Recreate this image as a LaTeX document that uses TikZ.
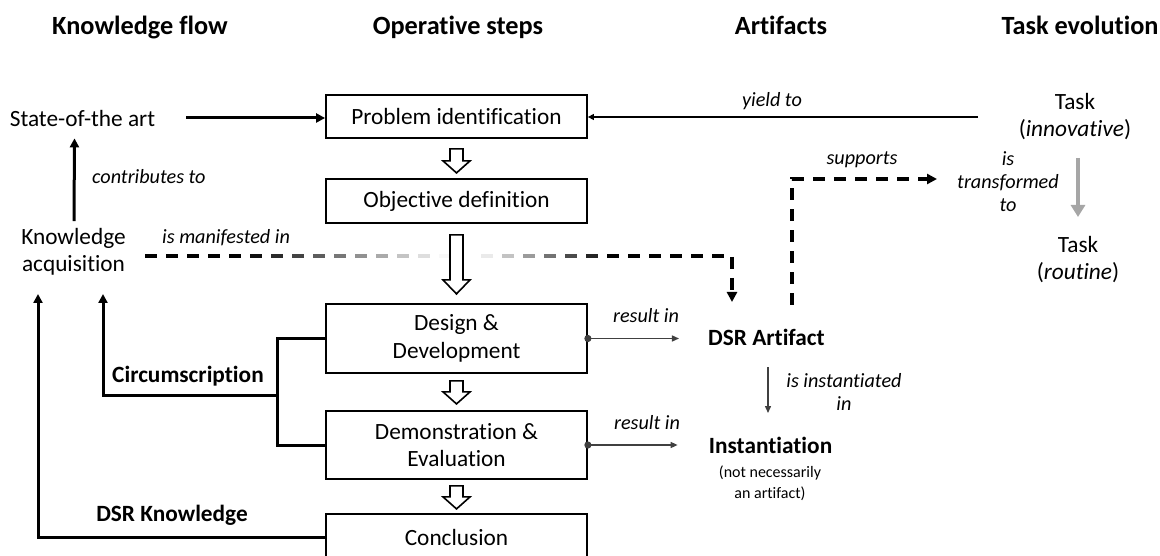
\documentclass[tikz,border=0pt]{standalone}
\usepackage{fontspec}
\setmainfont{Carlito}[Ligatures={NoCommon,NoContextual}]
\usetikzlibrary{arrows.meta,calc}
\definecolor{resgray}{HTML}{404040}
\definecolor{taskgray}{HTML}{A6A6A6}
\tikzset{
  stepbox/.style={draw, line width=1.8pt, minimum width=261pt, inner sep=0pt,
    align=center, font=\fontsize{23.3}{27.5}\selectfont},
  txt/.style={inner sep=0pt, align=center, font=\fontsize{23.3}{27.5}\selectfont},
  hdr/.style={inner sep=0pt, anchor=base, font=\fontsize{26.3}{30}\selectfont\bfseries},
  lbl/.style={inner sep=0pt, align=center, font=\fontsize{20.2}{23}\selectfont\itshape},
  blbl/.style={inner sep=0pt, font=\fontsize{23.3}{27}\selectfont\bfseries},
  small/.style={inner sep=0pt, align=center, font=\fontsize{16}{21}\selectfont},
  flow/.style={line width=3pt, -{Triangle[length=9pt,width=9pt]}},
  bracket/.style={line width=3pt},
  thinarrow/.style={line width=1.4pt, -{Triangle[length=6pt,width=6pt]}},
  result/.style={line width=1.4pt, resgray, -{Triangle[length=7pt,width=6pt]}},
  dashflow/.style={line width=3.2pt, dash pattern=on 12pt off 9pt,
    -{Triangle[length=10pt,width=10pt]}},
  hollow/.style={draw, line width=1.6pt, fill=white, line join=miter},
  taskarrow/.style={line width=4.5pt, taskgray, -{Triangle[length=12pt,width=14pt]}}
}
% hollow downward step arrow: start point, shaft length, head length
\newcommand{\hollowdown}[3]{%
  \path[hollow] ($(#1)+(-6.5,0)$) -- ++(0,#2) -- ++(-7,0) -- ++(13.5,#3)
    -- ++(13.5,-#3) -- ++(-7,0) -- ++(0,-#2) -- cycle;}
\begin{document}
\begin{tikzpicture}[x=1pt,y=-1pt]
\useasboundingbox (0,0) rectangle (1160,556);
\clip (0,0) rectangle (1160,556);

% column headings
\node[hdr] (h1) at (140,35) {Knowledge flow};
\node[hdr] (h2) at (458,35) {Operative steps};
\node[hdr] (h3) at (781,35) {Artifacts};
\node[hdr] (h4) at (1080,35) {Task evolution};

% operative steps
\node[stepbox, minimum height=43pt] (pi) at (456.5,116.5) {Problem identification};
\node[stepbox, minimum height=44pt] (od) at (456.5,201) {Objective definition};
\node[stepbox, minimum height=69pt] (dd) at (456.5,338.5) {Design \&\\Development};
\node[stepbox, minimum height=68pt] (de) at (456.5,445) {Demonstration \&\\Evaluation};
\node[stepbox, minimum height=46pt] (cc) at (456.5,537) {Conclusion};

% knowledge acquisition is manifested in the artifact (fading dashes)
\coordinate (mfstart) at (145,256);
\coordinate (mfturn) at (628,256);
\coordinate (mfend) at (732,302);
\foreach \i in {0,...,22}{
  \pgfmathsetmacro{\xa}{145+21*\i}
  \pgfmathsetmacro{\p}{max(min((445-\xa)/2.08,100),min((\xa-470)/1.35,100),0)}
  \draw[line width=3.2pt, black!\p] (\xa,256) -- ++(12,0);
}
\draw[dashflow] (mfturn) -| (mfend);

% step arrows
\hollowdown{$(pi.south)+(0,10)$}{12}{12}
\hollowdown{$(od.south)+(0,11)$}{45}{14}
\hollowdown{$(dd.south)+(0,7)$}{11}{12}
\hollowdown{$(de.south)+(0,6)$}{11}{12}

% knowledge flow
\node[txt] (sota) at (82.5,118) {State-of-the art};
\node[txt] (ka) at (73.5,252) {Knowledge\\acquisition};
\node[lbl, anchor=west] at (92,177) {contributes to};
\node[lbl, anchor=west] at (162,238) {is manifested in};
\node[blbl] at (188,376) {Circumscription};
\node[blbl] at (172,515) {DSR Knowledge};

\draw[flow] (sota.east) ++(31,0) -- (sota.east -| pi.west);
\draw[flow] ($(ka.north)+(0.5,-7)$) -- ($(sota.south)+(-8,12)$);

\coordinate (brk) at ($(dd.west)+(-48,0)$);
\draw[bracket] (dd.west) -- (brk) |- (de.west);
\coordinate (cj) at (brk |- 0,395);
\coordinate (kain1) at (103,294);
\coordinate (kain2) at (38,294);
\draw[flow] (cj) -| (kain1);
\draw[flow] (cc.west) -| (kain2);

% artifacts
\node[blbl] (art) at (766.5,337) {DSR Artifact};
\node[blbl] (inst) at (770.5,445) {Instantiation};
\node[small] at (770,483) {(not necessarily\\an artifact)};
\node[lbl] at (646,316) {result in};
\node[lbl] at (647,423) {result in};
\node[lbl] at (844,392) {is instantiated\\in};

\fill[resgray] (dd.east) circle (3.6pt);
\fill[resgray] (de.east) circle (3.6pt);
\draw[result] (dd.east) -- ($(dd.east -| art.west)+(-29,0)$);
\draw[result] (de.east) -- ($(de.east -| inst.west)+(-31,0)$);
\draw[result] (768,367) -- (768,413);

% task evolution
\node[txt] (ti) at (1075,116.5) {Task\\(\textit{innovative})};
\node[txt] (tr) at (1078,259.5) {Task\\(\textit{routine})};
\node[lbl] (tf) at (1008,182) {is\\transformed\\to};
\node[lbl] at (772,101) {yield to};
\node[lbl] at (862,160) {supports};

\coordinate (yieldstart) at (978,117);
\draw[thinarrow] (yieldstart) -- (yieldstart -| pi.east);
\draw[taskarrow] (1078,158) -- (1078,217);

\coordinate (supstart) at (792,305);
\coordinate (supend) at (937,179);
\draw[dashflow] (supstart) |- (supend);
\end{tikzpicture}
\end{document}
